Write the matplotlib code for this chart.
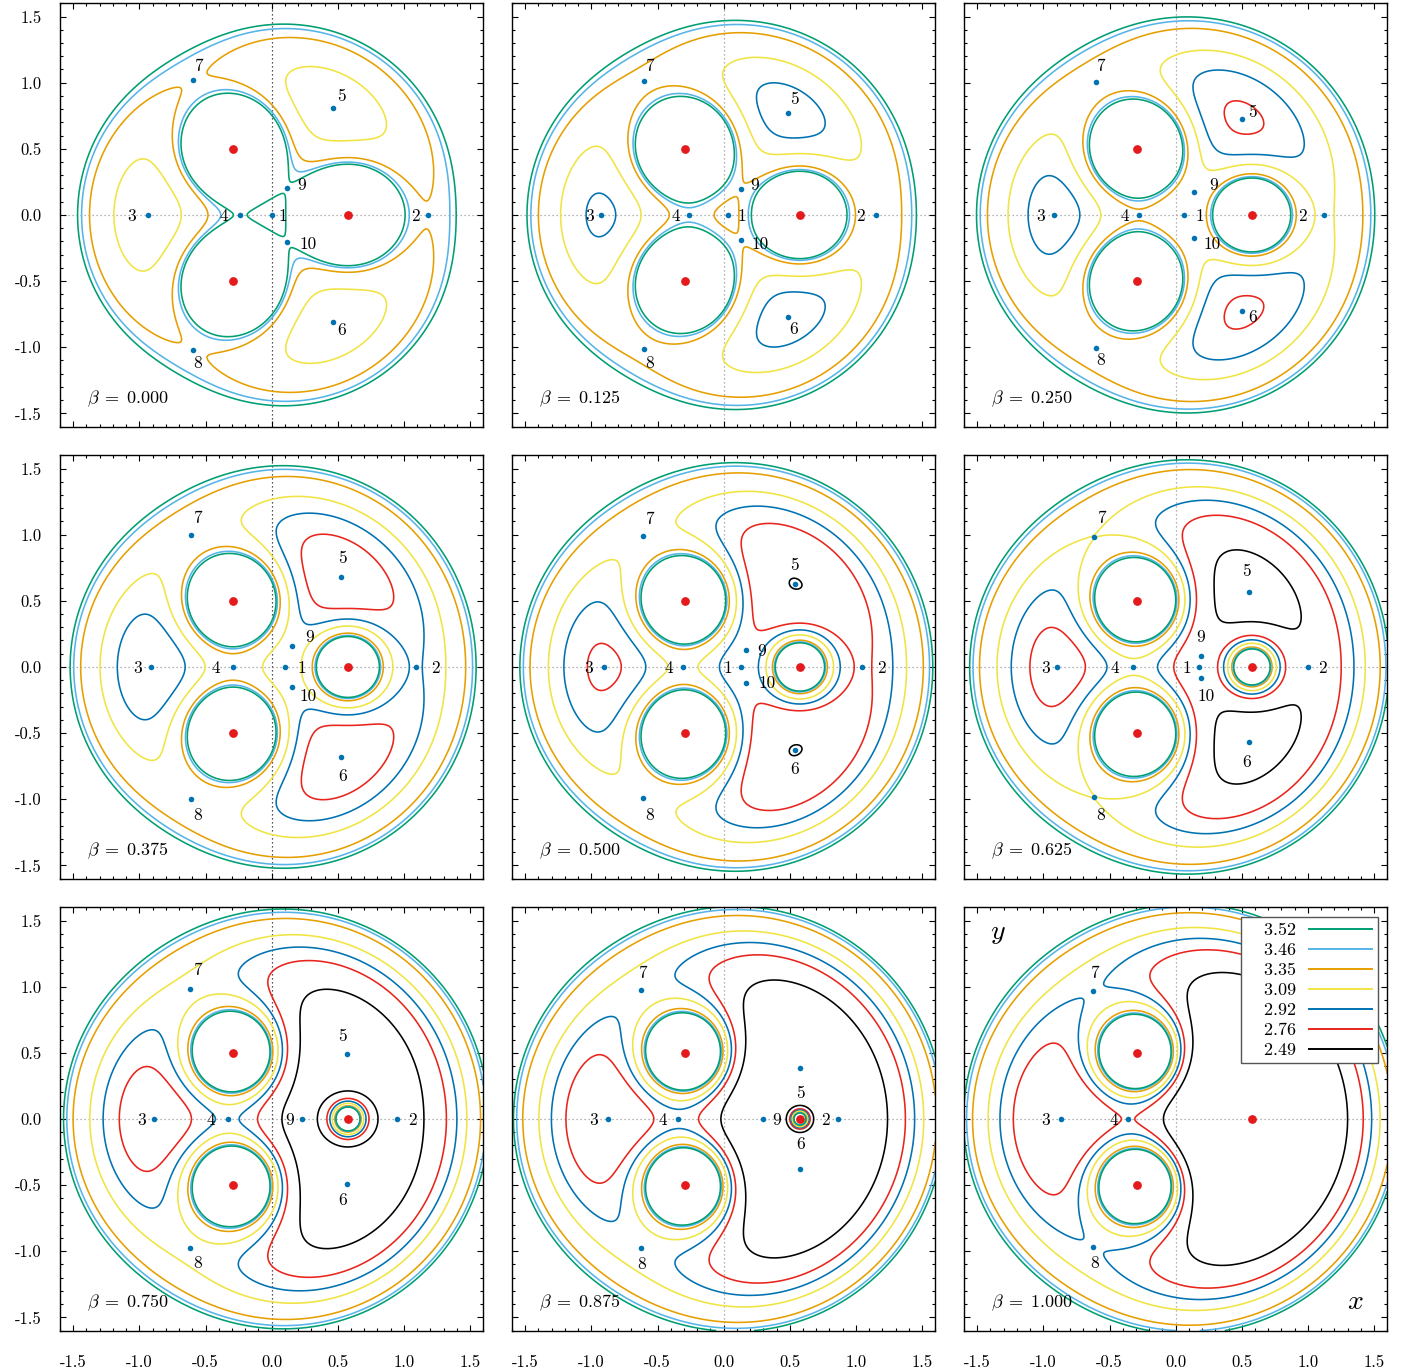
import numpy as np
import matplotlib
matplotlib.use("Agg")
import matplotlib.pyplot as plt
from matplotlib.ticker import MultipleLocator, FormatStrFormatter

plt.rcParams.update({
    "font.family": "cmr10",
    "mathtext.fontset": "cm",
    "axes.unicode_minus": False,
    "axes.formatter.use_mathtext": False,
})

# radiation parameter of the third primary, one panel each
betas = [0.000, 0.125, 0.250, 0.375, 0.500, 0.625, 0.750, 0.875, 1.000]

# Jacobi constant levels and their colours
levels = [3.52, 3.46, 3.35, 3.09, 2.92, 2.76, 2.49]
level_colors = ["#009e73", "#56b4e9", "#e69f00", "#f0e442", "#0072b2", "#e8241c", "#000000"]

# primaries (equilateral configuration, equal masses)
prim_x = [-0.289, -0.289, 0.577]
prim_y = [0.5, -0.5, 0.0]
prim_m = [1 / 3, 1 / 3, 1 / 3]

# equilibrium points for each beta
eq_ids = [
    [1, 2, 3, 4, 5, 6, 7, 8, 9, 10],
    [1, 2, 3, 4, 5, 6, 7, 8, 9, 10],
    [1, 2, 3, 4, 5, 6, 7, 8, 9, 10],
    [1, 2, 3, 4, 5, 6, 7, 8, 9, 10],
    [1, 2, 3, 4, 5, 6, 7, 8, 9, 10],
    [1, 2, 3, 4, 5, 6, 7, 8, 9, 10],
    [2, 3, 4, 5, 6, 7, 8, 9],
    [2, 3, 4, 5, 6, 7, 8, 9],
    [3, 4, 7, 8],
]
eq_x = [
    [0.000, 1.179, -0.935, -0.239, 0.463, 0.463, -0.594, -0.594, 0.116, 0.116],
    [0.030, 1.149, -0.929, -0.262, 0.486, 0.486, -0.600, -0.600, 0.128, 0.128],
    [0.063, 1.121, -0.919, -0.277, 0.504, 0.504, -0.605, -0.605, 0.141, 0.141],
    [0.098, 1.088, -0.909, -0.290, 0.521, 0.521, -0.607, -0.607, 0.156, 0.156],
    [0.134, 1.048, -0.904, -0.307, 0.542, 0.542, -0.612, -0.612, 0.169, 0.169],
    [0.174, 1.000, -0.897, -0.322, 0.557, 0.557, -0.617, -0.617, 0.191, 0.191],
    [0.947, -0.889, -0.332, 0.572, 0.572, -0.620, -0.620, 0.229],
    [0.866, -0.877, -0.348, 0.579, 0.579, -0.625, -0.625, 0.297],
    [-0.867, -0.358, -0.627, -0.627],
]
eq_y = [
    [0.0, 0.0, 0.0, 0.0, 0.811, -0.811, 1.022, -1.022, 0.207, -0.207],
    [0.0, 0.0, 0.0, 0.0, 0.770, -0.770, 1.014, -1.014, 0.193, -0.193],
    [0.0, 0.0, 0.0, 0.0, 0.729, -0.729, 1.007, -1.007, 0.175, -0.175],
    [0.0, 0.0, 0.0, 0.0, 0.682, -0.682, 0.999, -0.999, 0.155, -0.155],
    [0.0, 0.0, 0.0, 0.0, 0.626, -0.626, 0.991, -0.991, 0.125, -0.125],
    [0.0, 0.0, 0.0, 0.0, 0.566, -0.566, 0.985, -0.985, 0.080, -0.080],
    [0.0, 0.0, 0.0, 0.488, -0.488, 0.979, -0.979, 0.0],
    [0.0, 0.0, 0.0, 0.382, -0.382, 0.973, -0.973, 0.0],
    [0.0, 0.0, 0.966, -0.966],
]

# label placement (pixel offsets from each point)
label_offsets = [
    [(11, -1), (-12, -1), (-16, -1), (-16, -1), (9, 11), (9, -8), (5, 13), (5, -13), (15, 2), (21, -2)],
    [(14, -1), (-15, -1), (-11, -1), (-13, -1), (6, 14), (6, -13), (5, 14), (5, -14), (14, 4), (20, -4)],
    [(16, -1), (-21, -1), (-13, -1), (-14, -1), (10, 6), (10, -6), (5, 15), (5, -12), (19, 6), (18, -6)],
    [(17, -1), (20, -1), (-14, -1), (-17, -1), (2, 18), (2, -19), (6, 16), (6, -16), (17, 9), (16, -9)],
    [(-14, -1), (19, -1), (-15, -1), (-14, -1), (-1, 19), (-1, -20), (7, 17), (7, -17), (16, -1), (21, 0)],
    [(-12, -1), (15, -1), (-11, -1), (-18, -1), (-3, 21), (-3, -21), (7, 18), (7, -18), (0, 19), (5, -19)],
    [(16, -1), (-12, -1), (-17, -1), (-5, 18), (-5, -17), (8, 19), (8, -15), (-12, -1)],
    [(-13, -1), (-14, -1), (-15, -1), (0, -25), (0, 25), (1, 17), (1, -17), (14, -1)],
    [(-15, -1), (-14, -1), (2, 18), (2, -17)],
]

W, H = 1411, 1371
col_left = [60, 512, 964]
row_top = [3.3, 455.3, 907.3]
size = 423.3

g = np.linspace(-1.6, 1.6, 1601)
X, Y = np.meshgrid(g, g)
r1 = np.hypot(X - prim_x[0], Y - prim_y[0])
r2 = np.hypot(X - prim_x[1], Y - prim_y[1])
r3 = np.hypot(X - prim_x[2], Y - prim_y[2])

order = np.argsort(levels)
lev_sorted = [levels[i] for i in order]
col_sorted = [level_colors[i] for i in order]

fig = plt.figure(figsize=(W / 100, H / 100), dpi=100)

for k, beta in enumerate(betas):
    row, col = divmod(k, 3)
    ax = fig.add_axes([col_left[col] / W, 1 - (row_top[row] + size) / H, size / W, size / H])

    # Jacobi constant field C = 2*Omega
    q = [1.0, 1.0, 1.0 - beta]
    C = X**2 + Y**2 + 2 * (prim_m[0] * q[0] / r1 + prim_m[1] * q[1] / r2 + prim_m[2] * q[2] / r3)
    C = np.minimum(C, 40)

    vcol = "#222222" if col == 0 else "#9a9a9a"
    ax.axhline(0, color="#9a9a9a", lw=0.9, ls=(0, (1, 2.2)), zorder=0.5)
    ax.axvline(0, color=vcol, lw=0.9, ls=(0, (1, 2.2)), zorder=0.5)

    ax.contour(X, Y, C, levels=lev_sorted, colors=col_sorted, linewidths=1.15, zorder=2)

    ax.plot(prim_x, prim_y, "o", color="#e41a1c", ms=6.3, mec="none", zorder=5)
    ax.plot(eq_x[k], eq_y[k], "o", color="#0072b2", ms=4.0, mec="none", zorder=5)
    for pid, px, py, off in zip(eq_ids[k], eq_x[k], eq_y[k], label_offsets[k]):
        ax.annotate(str(pid), (px, py), xytext=off, textcoords="offset pixels",
                    ha="center", va="center", fontsize=12.5, zorder=6)

    ax.text(0.063, 0.066, r"$\beta\;=\;%.3f$" % beta, transform=ax.transAxes,
            fontsize=13, ha="left", va="center")

    ax.set_xlim(-1.6, 1.6)
    ax.set_ylim(-1.6, 1.6)
    ax.set_aspect("auto")
    ax.xaxis.set_major_locator(MultipleLocator(0.5))
    ax.yaxis.set_major_locator(MultipleLocator(0.5))
    ax.xaxis.set_minor_locator(MultipleLocator(0.1))
    ax.yaxis.set_minor_locator(MultipleLocator(0.1))
    ax.xaxis.set_major_formatter(FormatStrFormatter("%.1f"))
    ax.yaxis.set_major_formatter(FormatStrFormatter("%.1f"))
    ax.tick_params(which="both", direction="in", top=True, right=True, width=0.8, labelsize=12)
    ax.tick_params(which="major", length=4.5)
    ax.tick_params(which="minor", length=2.3)
    ax.tick_params(axis="y", pad=13, labelleft=(col == 0))
    ax.tick_params(axis="x", pad=17, labelbottom=(row == 2))
    for s in ax.spines.values():
        s.set_linewidth(1.0)

    if k == 8:
        handles = [plt.Line2D([], [], color=c, lw=1.4) for c in level_colors]
        leg = ax.legend(handles, ["   %.2f" % v for v in levels], loc="upper right",
                        bbox_to_anchor=(0.977, 0.977), borderaxespad=0, markerfirst=False,
                        fontsize=13, handlelength=3.5, labelspacing=0.24, handletextpad=0.7,
                        borderpad=0.3, fancybox=False, framealpha=1, edgecolor="#555555")
        leg.get_frame().set_linewidth(1.0)
        leg.set_zorder(10)
        ax.text(0.08, 0.94, r"$y$", transform=ax.transAxes, fontsize=20, ha="center", va="center")
        ax.text(0.924, 0.068, r"$x$", transform=ax.transAxes, fontsize=20, ha="center", va="center")

fig.savefig("out.png", dpi=100)
